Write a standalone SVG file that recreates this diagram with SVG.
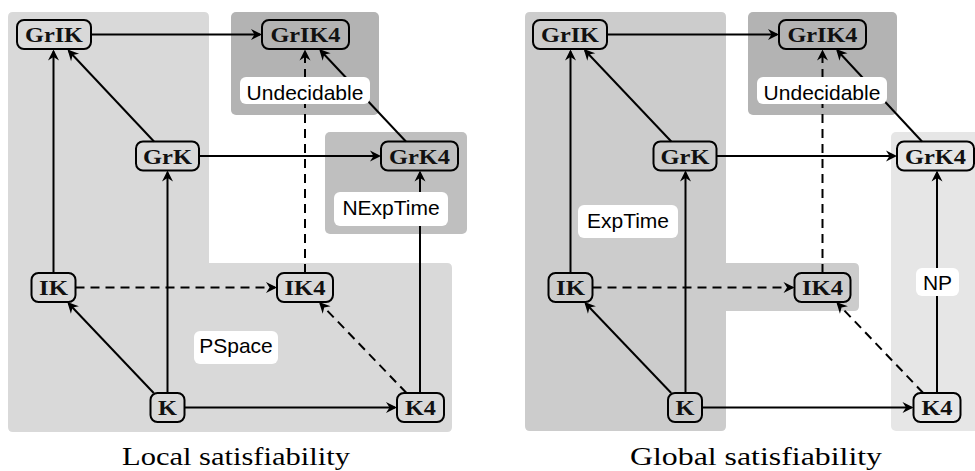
<svg xmlns="http://www.w3.org/2000/svg" width="975" height="471" viewBox="0 0 975 471">
<style>
.e{fill:none;stroke:#000;stroke-width:2;marker-end:url(#ah)}
.d{stroke-dasharray:9 6}
.n rect{fill:none;stroke:#000;stroke-width:2}
.n text{font-family:"Liberation Serif","Times New Roman",serif;font-weight:bold;font-size:22px;text-anchor:middle;fill:#111}
.lb rect{fill:#fff}
.lb text{font-family:"Liberation Sans",Arial,sans-serif;font-size:21px;text-anchor:middle;fill:#000}
.cap{font-family:"Liberation Serif","Times New Roman",serif;font-size:26px;text-anchor:middle;fill:#000}
</style>
<defs>
<marker id="ah" viewBox="-12 -7 16 14" refX="-2" refY="0" markerWidth="16" markerHeight="14" markerUnits="userSpaceOnUse" orient="auto">
<path d="M-11,-5.5 L0,0 L-11,5.5 L-7.5,0 Z" fill="#000"/>
</marker>
</defs>
<rect width="975" height="471" fill="#fff"/>
<g id="regions">
<path id="pspace" d="M13,12 H204 Q209,12 209,17 V263 H447 Q452,263 452,268 V427 Q452,432 447,432 H13 Q8,432 8,427 V17 Q8,12 13,12 Z" fill="#d9d9d9"/>
<rect id="undec-l" x="231" y="12" width="148" height="103" rx="5" fill="#b3b3b3"/>
<rect id="nexp" x="325" y="132" width="142" height="102" rx="5" fill="#bfbfbf"/>
<path id="exptime" d="M530,12 H721 Q726,12 726,17 V263 H854 Q859,263 859,268 V306 Q859,311 854,311 H726 V426 Q726,431 721,431 H530 Q525,431 525,426 V17 Q525,12 530,12 Z" fill="#cccccc"/>
<rect id="undec-r" x="748" y="12" width="149" height="103" rx="5" fill="#b3b3b3"/>
<rect id="np" x="891" y="132" width="95" height="299" rx="5" fill="#e6e6e6"/>
</g>
<g id="connectors">
<path class="e" d="M91,34.5 H260"/>
<path class="e" d="M199,156 H379"/>
<path class="e" d="M185,407.5 H395"/>
<path class="e d" d="M75.5,287.5 H275"/>
<path class="e" d="M53.5,273 V51.5"/>
<path class="e" d="M167.5,392.5 V172.5"/>
<path class="e d" d="M305,273 V51.5"/>
<path class="e" d="M420,392.5 V172.5"/>
<path class="e" d="M154,141.5 L68.9,51"/>
<path class="e" d="M153.7,393 L68.7,303.5"/>
<path class="e d" d="M406.5,393 L320.4,303.5"/>
<path class="e" d="M405.9,141.5 L320.5,50.5"/>
<path class="e" d="M607,34.5 H777"/>
<path class="e" d="M716.5,156 H895"/>
<path class="e" d="M702,407.5 H911.5"/>
<path class="e d" d="M592.5,287.5 H792.5"/>
<path class="e" d="M570.5,273 V51.5"/>
<path class="e" d="M685.5,392.5 V172.5"/>
<path class="e d" d="M822.5,273 V51.5"/>
<path class="e" d="M937,392.5 V172.5"/>
<path class="e" d="M671.3,141.5 L585.1,50.5"/>
<path class="e" d="M671.2,393 L585.7,303.5"/>
<path class="e d" d="M923.2,393 L837.7,303.5"/>
<path class="e" d="M922,141.5 L837.4,50.5"/>
</g>
<g id="labels">
<g class="lb" id="lbl-undec-l"><rect x="240" y="77" width="130" height="27" rx="6"/><text x="305" y="100">Undecidable</text></g>
<g class="lb" id="lbl-nexp"><rect x="334" y="192" width="114" height="34" rx="6"/><text x="391" y="215">NExpTime</text></g>
<g class="lb" id="lbl-pspace"><rect x="194" y="331" width="84" height="33" rx="6"/><text x="236" y="353">PSpace</text></g>
<g class="lb" id="lbl-undec-r"><rect x="757" y="77" width="130" height="27" rx="6"/><text x="822" y="100">Undecidable</text></g>
<g class="lb" id="lbl-exptime"><rect x="578" y="205" width="100" height="33" rx="6"/><text x="628" y="228">ExpTime</text></g>
<g class="lb" id="lbl-np"><rect x="916" y="268" width="43" height="28" rx="6"/><text x="937.5" y="290">NP</text></g>
</g>
<g id="L-GrIK" class="n"><rect x="17" y="20" width="74" height="29" rx="7"/><text x="54" y="42" textLength="58" lengthAdjust="spacingAndGlyphs">GrIK</text></g>
<g id="L-GrIK4" class="n"><rect x="262" y="20" width="87" height="29" rx="7"/><text x="305.5" y="42" textLength="70" lengthAdjust="spacingAndGlyphs">GrIK4</text></g>
<g id="L-GrK" class="n"><rect x="136" y="141.5" width="63" height="29" rx="7"/><text x="167.5" y="163.5" textLength="49" lengthAdjust="spacingAndGlyphs">GrK</text></g>
<g id="L-GrK4" class="n"><rect x="381" y="141.5" width="77" height="29" rx="7"/><text x="419.5" y="163.5" textLength="61" lengthAdjust="spacingAndGlyphs">GrK4</text></g>
<g id="L-IK" class="n"><rect x="31.5" y="273" width="44" height="29" rx="7"/><text x="53.5" y="295" textLength="29" lengthAdjust="spacingAndGlyphs">IK</text></g>
<g id="L-IK4" class="n"><rect x="277" y="273" width="56" height="29" rx="7"/><text x="305" y="295" textLength="41" lengthAdjust="spacingAndGlyphs">IK4</text></g>
<g id="L-K" class="n"><rect x="150.5" y="393" width="34" height="29" rx="7"/><text x="167.5" y="415" textLength="19" lengthAdjust="spacingAndGlyphs">K</text></g>
<g id="L-K4" class="n"><rect x="397" y="393" width="47" height="29" rx="7"/><text x="420.5" y="415" textLength="31" lengthAdjust="spacingAndGlyphs">K4</text></g>
<g id="R-GrIK" class="n"><rect x="533" y="20" width="74" height="29" rx="7"/><text x="570" y="42" textLength="58" lengthAdjust="spacingAndGlyphs">GrIK</text></g>
<g id="R-GrIK4" class="n"><rect x="779" y="20" width="87" height="29" rx="7"/><text x="822.5" y="42" textLength="70" lengthAdjust="spacingAndGlyphs">GrIK4</text></g>
<g id="R-GrK" class="n"><rect x="653.5" y="141.5" width="63" height="29" rx="7"/><text x="685" y="163.5" textLength="49" lengthAdjust="spacingAndGlyphs">GrK</text></g>
<g id="R-GrK4" class="n"><rect x="897" y="141.5" width="77" height="29" rx="7"/><text x="935.5" y="163.5" textLength="61" lengthAdjust="spacingAndGlyphs">GrK4</text></g>
<g id="R-IK" class="n"><rect x="548.5" y="273" width="44" height="29" rx="7"/><text x="570.5" y="295" textLength="29" lengthAdjust="spacingAndGlyphs">IK</text></g>
<g id="R-IK4" class="n"><rect x="794.5" y="273" width="56" height="29" rx="7"/><text x="822.5" y="295" textLength="41" lengthAdjust="spacingAndGlyphs">IK4</text></g>
<g id="R-K" class="n"><rect x="668" y="393" width="34" height="29" rx="7"/><text x="685" y="415" textLength="19" lengthAdjust="spacingAndGlyphs">K</text></g>
<g id="R-K4" class="n"><rect x="913.5" y="393" width="47" height="29" rx="7"/><text x="937" y="415" textLength="31" lengthAdjust="spacingAndGlyphs">K4</text></g>
<text class="cap" x="236" y="465" textLength="228" lengthAdjust="spacingAndGlyphs">Local satisfiability</text>
<text class="cap" x="756" y="465" textLength="252" lengthAdjust="spacingAndGlyphs">Global satisfiability</text>
</svg>
